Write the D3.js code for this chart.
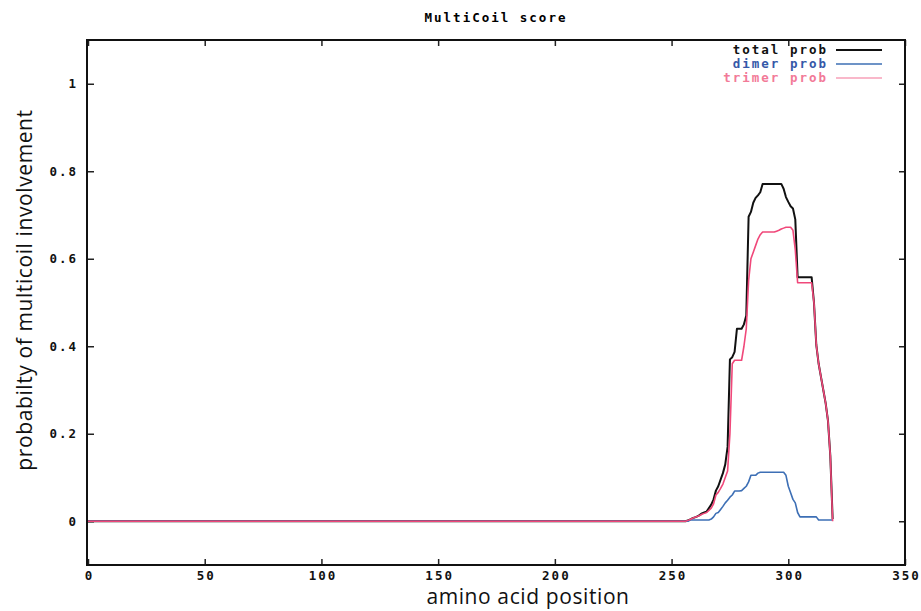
<!DOCTYPE html>
<html><head><meta charset="utf-8">
<script src="https://cdn.jsdelivr.net/npm/d3@7"></script>
<style>
body{margin:0;background:#fff;}
.mono{font-family:"DejaVu Sans Mono",monospace;font-weight:bold;font-size:12.5px;letter-spacing:2px;}
.ttl{font-family:"Open Sans",sans-serif;font-size:21px;fill:#111;letter-spacing:0.6px;}
</style></head>
<body><svg id="c" width="921" height="611"></svg>
<script>
const positions = [0,255,256,257,258,259,260,261,262,263,264,265,266,267,268,269,270,271,272,273,274,275,276,277,278,279,280,281,282,283,284,285,286,287,288,289,290,291,292,293,294,295,296,297,298,299,300,301,302,303,304,305,306,307,308,309,310,311,312,313,314,315,316,317,318,319];
const totalProb = [0,0,0,0.002,0.004,0.007,0.009,0.011,0.014,0.018,0.02,0.022,0.03,0.038,0.05,0.07,0.08,0.095,0.11,0.13,0.17,0.37,0.375,0.387,0.44,0.44,0.44,0.45,0.47,0.696,0.707,0.728,0.739,0.745,0.752,0.771,0.771,0.771,0.771,0.771,0.771,0.771,0.771,0.771,0.76,0.741,0.73,0.72,0.715,0.69,0.558,0.558,0.558,0.558,0.558,0.558,0.558,0.5,0.403,0.36,0.33,0.30,0.27,0.23,0.15,0.005];
const dimerProb = [0,0,0,0,0.003,0.003,0.003,0.003,0.003,0.003,0.003,0.003,0.003,0.005,0.01,0.018,0.02,0.027,0.034,0.042,0.048,0.055,0.06,0.069,0.069,0.069,0.07,0.075,0.08,0.09,0.105,0.105,0.105,0.11,0.112,0.112,0.112,0.112,0.112,0.112,0.112,0.112,0.112,0.112,0.112,0.105,0.08,0.065,0.05,0.042,0.02,0.01,0.01,0.01,0.01,0.01,0.01,0.01,0.01,0.003,0.003,0.003,0.003,0.003,0.003,0.003];
const trimerProb = [0,0,0,0.002,0.004,0.007,0.009,0.011,0.013,0.016,0.018,0.02,0.025,0.03,0.04,0.06,0.066,0.075,0.085,0.10,0.115,0.2,0.36,0.368,0.368,0.368,0.368,0.40,0.44,0.55,0.60,0.615,0.63,0.645,0.655,0.661,0.661,0.661,0.661,0.661,0.661,0.663,0.665,0.668,0.67,0.672,0.672,0.672,0.665,0.62,0.545,0.545,0.545,0.545,0.545,0.545,0.545,0.5,0.403,0.36,0.33,0.30,0.27,0.23,0.15,0.0];
const xTicks = [0,50,100,150,200,250,300,350];
const yTicks = [0,0.2,0.4,0.6,0.8,1];
const yTickLabels = ["0","0.2","0.4","0.6","0.8","1"];
const seriesNames = ["total prob","dimer prob","trimer prob"];
const seriesColors = ["#111111","#3d6fb5","#f0487a"];
const legendTextColors = ["#111111","#3558a8","#f27a98"];

const svg = d3.select("#c");
const x = d3.scaleLinear().domain([0,350]).range([88,905]);
const y = d3.scaleLinear().domain([-0.1,1.1]).range([565,40]);

// title
svg.append("text").attr("class","mono").attr("x",496).attr("y",22).attr("text-anchor","middle").text("MultiCoil score");

// axes with inward ticks
svg.append("g").attr("transform","translate(0,565)")
  .call(d3.axisBottom(x).tickValues(xTicks).tickSize(-6).tickPadding(6).tickFormat(d=>String(d)))
  .call(g=>{g.select(".domain").remove();g.selectAll("text").attr("class","mono").attr("fill","#111").attr("dx","1px");g.selectAll("line").attr("stroke","#222").attr("stroke-width",1.5);});
svg.append("g").attr("transform","translate(0,40)")
  .call(d3.axisTop(x).tickValues(xTicks).tickSize(-6).tickFormat(""))
  .call(g=>{g.select(".domain").remove();g.selectAll("line").attr("stroke","#222").attr("stroke-width",1.5);});
svg.append("g").attr("transform","translate(88,0)")
  .call(d3.axisLeft(y).tickValues(yTicks).tickSize(-6).tickPadding(10).tickFormat((d,i)=>yTickLabels[i]))
  .call(g=>{g.select(".domain").remove();g.selectAll("text").attr("class","mono").attr("fill","#111").attr("letter-spacing","1.2px");g.selectAll("line").attr("stroke","#222").attr("stroke-width",1.5);});
svg.append("g").attr("transform","translate(905,0)")
  .call(d3.axisRight(y).tickValues(yTicks).tickSize(-6).tickFormat(""))
  .call(g=>{g.select(".domain").remove();g.selectAll("line").attr("stroke","#222").attr("stroke-width",1.5);});

// frame
svg.append("rect").attr("x",x(0)-1).attr("y",y(1.1)).attr("width",x(350)-x(0)+1).attr("height",y(-0.1)-y(1.1))
  .attr("fill","none").attr("stroke","#111").attr("stroke-width",2);

// lines
const data = [totalProb, dimerProb, trimerProb];
const line = d3.line().x((d,i)=>x(positions[i])).y(d=>y(d)).curve(d3.curveLinear);
data.forEach((vals,k)=>{
  svg.append("path").datum(vals).attr("d",line).attr("fill","none")
    .attr("stroke",seriesColors[k]).attr("stroke-width",k===0?2:1.6).attr("stroke-linejoin","round");
});

// legend
seriesNames.forEach((n,k)=>{
  const ly = 50 + k*14;
  svg.append("text").attr("class","mono").attr("x",828).attr("y",ly+4).attr("text-anchor","end")
    .attr("fill",legendTextColors[k]).attr("font-weight",k===0?"bold":"normal").text(n);
  svg.append("line").attr("x1",836).attr("x2",882).attr("y1",ly).attr("y2",ly)
    .attr("stroke",k===2?"#f7a0b8":seriesColors[k]).attr("stroke-width",k===0?2:1.5);
});

// axis titles
svg.append("text").attr("class","ttl").attr("x",528).attr("y",604).attr("text-anchor","middle").text("amino acid position");
svg.append("text").attr("class","ttl").attr("transform","translate(32,290) rotate(-90)").attr("text-anchor","middle").text("probabilty of multicoil involvement");
</script></body></html>
